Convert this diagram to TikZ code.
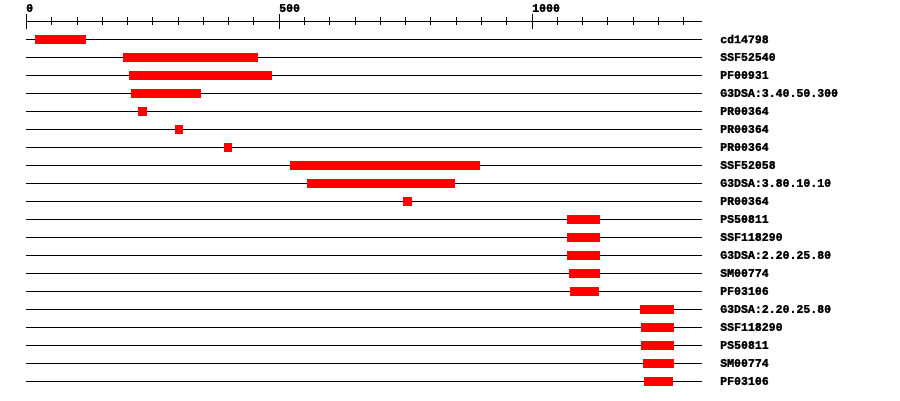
\documentclass[tikz,border=0pt]{standalone}
\usepackage{fontspec}
\newfontfamily\labfont[FakeBold=2]{Liberation Mono}
\begin{document}
\begin{tikzpicture}[x=1pt,y=-1pt,
  track/.style={line width=1pt,black},
  feat/.style={fill=red,draw=none},
  lab/.style={anchor=west,inner sep=0pt,font=\labfont\fontsize{11.55}{12}\selectfont\bfseries},
  scalelab/.style={anchor=west,inner sep=0pt,font=\labfont\fontsize{11.55}{12}\selectfont\bfseries}]
\useasboundingbox (0,0) rectangle (900,400);
\fill[white] (0,0) rectangle (900,400);
% axis
\coordinate (ax0) at (26,21);
\coordinate (ax1) at (702,21);
\draw[track] (ax0) -- (ax1);
\foreach \k in {0,...,26} {
  \pgfmathsetmacro\xx{26.5+25.275*\k}
  \draw[line width=1pt] (\xx,17) -- (\xx,25);
}
\foreach \k in {0,10,20} {
  \pgfmathsetmacro\xx{26.5+25.275*\k}
  \draw[line width=1pt] (\xx,14) -- (\xx,29);
}
\node[scalelab] (s0) at (26,8) {0};
\node[scalelab] (s500) at (279,8) {500};
\node[scalelab] (s1000) at (532,8) {1000};
% tracks
\foreach \i/\a/\b/\t in {
  1/35/86/cd14798,
  2/123/258/SSF52540,
  3/129/272/PF00931,
  4/131/201/G3DSA:3.40.50.300,
  5/138/147/PR00364,
  6/175/183/PR00364,
  7/224/232/PR00364,
  8/290/480/SSF52058,
  9/307/455/G3DSA:3.80.10.10,
  10/403/412/PR00364,
  11/567/600/PS50811,
  12/567/600/SSF118290,
  13/567/600/G3DSA:2.20.25.80,
  14/569/600/SM00774,
  15/570/599/PF03106,
  16/640/674/G3DSA:2.20.25.80,
  17/641/674/SSF118290,
  18/641/674/PS50811,
  19/643/674/SM00774,
  20/644/673/PF03106} {
  \pgfmathsetmacro\yy{21+18*\i}
  \coordinate (l\i) at (26,\yy);
  \coordinate (r\i) at (702,\yy);
  \draw[track] (l\i) -- (r\i);
  \fill[feat] (\a,\yy-4.5) rectangle (\b,\yy+4.5);
  \node[lab] (t\i) at (720,\yy) {\t};
}
\end{tikzpicture}
\end{document}
